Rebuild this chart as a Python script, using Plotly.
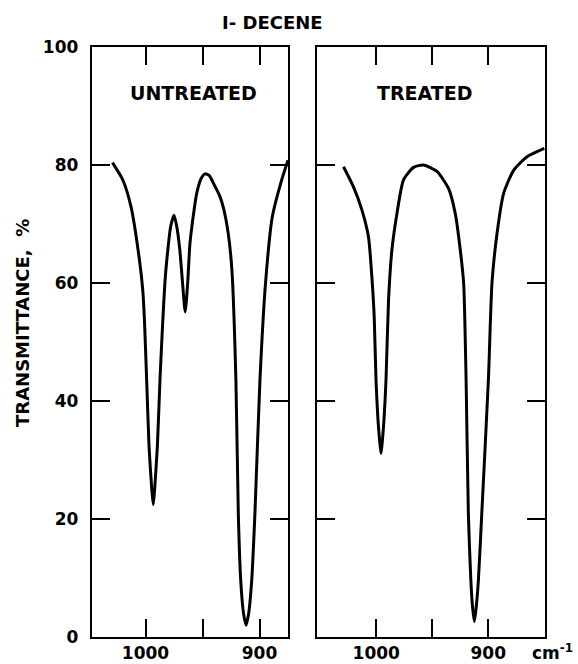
import plotly.graph_objects as go

# ---- data ----
untreated_wn = [1029, 1020, 1012.7, 1005.3, 1002.4, 1001, 999, 996.9, 994.5, 993.2, 992, 989.6,
                987.3, 985, 983, 981, 978, 975, 972.5, 969.9, 967.5, 965.2, 963, 961, 958, 955.1,
                951, 947.8, 944, 940.4, 935, 931.6, 927.5, 924.2, 920.7, 918.6, 916.5, 914,
                911.8, 909.5, 906.8, 904, 899.6, 894.7, 888.8, 881.4, 875]
untreated_t = [80.4, 77.5, 72.9, 63.9, 58.8, 54, 43.6, 32.3, 25, 22.4, 25, 32.3,
               43.6, 53, 60, 64.5, 69.5, 71.5, 69.5, 65.6, 60, 55.1, 60, 66.7, 71.5, 75.2,
               77.8, 78.5, 78.2, 76.9, 74.8, 72.7, 68.5, 62.2, 43.6, 21, 9.7, 4,
               2.0, 4, 9.7, 21, 43.6, 60, 71.2, 76.9, 80.8]

treated_wn = [1029.2, 1020.3, 1012.8, 1006.9, 1003.9, 1001.8, 1000.2, 998.5, 996.8, 995.7,
              994.6, 993, 991.25, 989, 986, 981.5, 975.6, 966.7, 957.8, 945.8, 935.4, 929.5,
              925, 922, 919.8, 917.8, 915.6, 914, 912.4, 910.8, 908.8, 905.8, 899.9, 896.7,
              892.2, 886.3, 877.4, 865.4, 853.6, 850]
treated_t = [79.7, 76.3, 72.4, 67.8, 61.1, 54.3, 43.6, 37, 33, 31.1,
             33, 37, 43.6, 57.1, 65.6, 71.8, 77.5, 79.6, 80, 78.9, 76, 71.8,
             65.6, 60, 43.6, 21, 9.7, 5, 2.6, 5, 9.7, 21, 43.6, 60,
             68.4, 75.2, 79.1, 81.4, 82.5, 82.8]

x_tickvals = [1000, 900]
x_ticktext = ["1000", "900"]
x_minor_tickvals = [950]
y_tickvals = [0, 20, 40, 60, 80, 100]
y_ticktext = ["0", "20", "40", "60", "80", "100"]

W, H = 578, 664
FONT = "DejaVu Sans"

fig = go.Figure()
line = dict(color="black", width=3, shape="spline", smoothing=0.6)
fig.add_trace(go.Scatter(x=untreated_wn, y=untreated_t, mode="lines", line=line,
                         xaxis="x", yaxis="y", showlegend=False, hoverinfo="skip"))
fig.add_trace(go.Scatter(x=treated_wn, y=treated_t, mode="lines", line=line,
                         xaxis="x2", yaxis="y2", showlegend=False, hoverinfo="skip"))

def px_x(p):
    return p / W

def px_y(p):
    return 1 - p / H

tickfont = dict(family=FONT, size=17, color="black", weight="bold")
axis_common = dict(showgrid=False, zeroline=False, showline=True, linecolor="black",
                   linewidth=2, mirror="ticks", ticks="inside", ticklen=18, tickwidth=2,
                   tickcolor="black", automargin=False, tickfont=tickfont)
minor = dict(tickvals=x_minor_tickvals, ticks="inside", ticklen=18, tickwidth=2,
             tickcolor="black", showgrid=False)

ydom = [px_y(637), px_y(47)]
fig.update_layout(
    width=W, height=H, margin=dict(l=0, r=0, t=0, b=0, autoexpand=False),
    paper_bgcolor="white", plot_bgcolor="white",
    xaxis=dict(domain=[px_x(91.7), px_x(288)], range=[1047.2, 875], anchor="y",
               tickvals=x_tickvals, ticktext=x_ticktext, ticklabelstandoff=0,
               minor=minor, **axis_common),
    yaxis=dict(domain=ydom, range=[0, 100], anchor="x",
               tickvals=y_tickvals, ticktext=y_ticktext, ticklabelstandoff=8, **axis_common),
    xaxis2=dict(domain=[px_x(316.7), px_x(545)], range=[1053.1, 849.4], anchor="y2",
                tickvals=x_tickvals, ticktext=x_ticktext, ticklabelstandoff=0,
                minor=minor, **axis_common),
    yaxis2=dict(domain=ydom, range=[0, 100], anchor="x2",
                tickvals=y_tickvals, showticklabels=False, **axis_common),
)

def ann(text, x, y, size, xanchor="center", angle=0):
    fig.add_annotation(text=text, x=px_x(x), y=px_y(y), xref="paper", yref="paper",
                       showarrow=False, xanchor=xanchor, yanchor="middle", textangle=angle,
                       font=dict(family=FONT, size=size, color="black", weight="bold"))

ann("I- DECENE", 272, 23, 18)
ann("UNTREATED", 193.7, 93, 19)
ann("TREATED", 425, 93, 19)
ann("TRANSMITTANCE,  %", 22, 323, 18, angle=-90)
ann("cm<sup>-1</sup>", 530, 652, 17, xanchor="left")

fig.write_html("out.html", config={"displayModeBar": False},
               post_script="document.body.style.margin='0';")
